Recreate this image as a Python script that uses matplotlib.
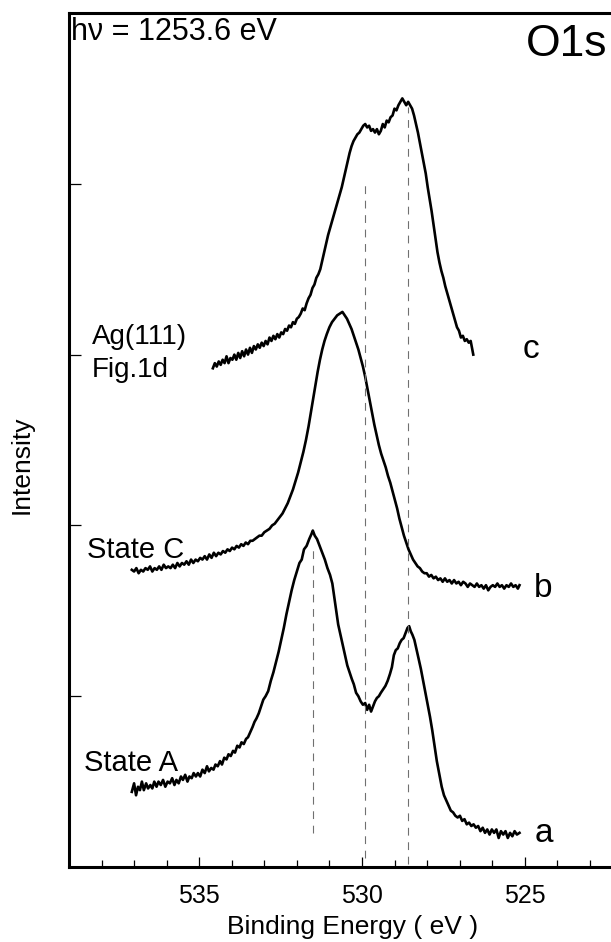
"""O1s XPS spectra (states A, C and Ag(111) Fig.1d)"""
import matplotlib
matplotlib.use("Agg")
import matplotlib.pyplot as plt
from matplotlib.ticker import MultipleLocator, NullFormatter

plt.rcParams["font.family"] = ["Liberation Sans", "DejaVu Sans"]

# --- spectra: binding energy (eV) / intensity (arb.) ---
energy_a = [537.07, 537.00, 536.94, 536.88, 536.82, 536.76, 536.70, 536.63, 536.57, 536.50,
            536.44, 536.38, 536.31, 536.25, 536.18, 536.11, 536.04, 535.97, 535.90, 535.83,
            535.76, 535.70, 535.63, 535.56, 535.50, 535.43, 535.36, 535.30, 535.23, 535.17,
            535.10, 535.04, 534.97, 534.90, 534.83, 534.76, 534.70, 534.63, 534.56, 534.50,
            534.43, 534.36, 534.30, 534.23, 534.16, 534.10, 534.03, 533.96, 533.90, 533.83,
            533.76, 533.70, 533.63, 533.56, 533.50, 533.43, 533.36, 533.30, 533.24, 533.17,
            533.10, 533.03, 532.96, 532.88, 532.80, 532.72, 532.64, 532.56, 532.48, 532.40,
            532.32, 532.24, 532.16, 532.08, 532.00, 531.92, 531.85, 531.78, 531.70, 531.62,
            531.55, 531.51, 531.45, 531.38, 531.30, 531.22, 531.14, 531.06, 530.98, 530.91,
            530.85, 530.79, 530.73, 530.66, 530.59, 530.52, 530.45, 530.38, 530.31, 530.25,
            530.18, 530.11, 530.04, 529.97, 529.90, 529.84, 529.78, 529.72, 529.66, 529.60,
            529.54, 529.48, 529.42, 529.35, 529.28, 529.21, 529.14, 529.08, 529.02, 528.96,
            528.90, 528.84, 528.78, 528.72, 528.66, 528.60, 528.55, 528.50, 528.45, 528.39,
            528.33, 528.26, 528.19, 528.12, 528.05, 527.98, 527.91, 527.84, 527.77, 527.70,
            527.62, 527.55, 527.48, 527.41, 527.34, 527.27, 527.20, 527.13, 527.06, 526.99,
            526.92, 526.85, 526.78, 526.71, 526.64, 526.57, 526.50, 526.43, 526.36, 526.29,
            526.22, 526.15, 526.08, 526.01, 525.94, 525.87, 525.80, 525.73, 525.66, 525.59,
            525.52, 525.45, 525.38, 525.31, 525.24, 525.16]
counts_a = [0.44, 0.49, 0.42, 0.47, 0.45, 0.50, 0.45, 0.49, 0.46, 0.48,
            0.46, 0.50, 0.47, 0.50, 0.48, 0.51, 0.47, 0.50, 0.49, 0.52,
            0.48, 0.51, 0.49, 0.53, 0.51, 0.54, 0.50, 0.53, 0.52, 0.55,
            0.53, 0.55, 0.53, 0.57, 0.55, 0.59, 0.56, 0.58, 0.57, 0.60,
            0.59, 0.62, 0.60, 0.64, 0.63, 0.66, 0.65, 0.68, 0.67, 0.71,
            0.70, 0.73, 0.72, 0.75, 0.76, 0.79, 0.82, 0.85, 0.87, 0.90,
            0.94, 0.98, 1.00, 1.03, 1.09, 1.14, 1.20, 1.26, 1.33, 1.40,
            1.48, 1.55, 1.62, 1.68, 1.73, 1.78, 1.80, 1.86, 1.88, 1.92,
            1.95, 1.97, 1.94, 1.92, 1.88, 1.84, 1.80, 1.75, 1.71, 1.66,
            1.58, 1.50, 1.42, 1.36, 1.30, 1.24, 1.18, 1.14, 1.10, 1.07,
            1.02, 1.00, 0.97, 0.95, 0.96, 0.92, 0.95, 0.91, 0.94, 0.97,
            0.99, 1.00, 1.02, 1.04, 1.06, 1.09, 1.13, 1.17, 1.24, 1.27,
            1.28, 1.31, 1.33, 1.34, 1.37, 1.40, 1.41, 1.38, 1.36, 1.33,
            1.28, 1.22, 1.16, 1.09, 1.02, 0.95, 0.88, 0.80, 0.71, 0.62,
            0.54, 0.47, 0.42, 0.39, 0.36, 0.33, 0.32, 0.30, 0.29, 0.30,
            0.27, 0.28, 0.25, 0.26, 0.24, 0.25, 0.23, 0.24, 0.21, 0.23,
            0.20, 0.22, 0.19, 0.22, 0.20, 0.22, 0.17, 0.21, 0.19, 0.21,
            0.17, 0.20, 0.18, 0.21, 0.19, 0.20]

energy_b = [537.07, 537.00, 536.93, 536.86, 536.79, 536.72, 536.65, 536.58, 536.51, 536.44,
            536.37, 536.30, 536.23, 536.16, 536.09, 536.02, 535.95, 535.88, 535.81, 535.74,
            535.67, 535.60, 535.53, 535.46, 535.39, 535.32, 535.25, 535.18, 535.11, 535.04,
            534.97, 534.90, 534.83, 534.76, 534.69, 534.62, 534.55, 534.48, 534.41, 534.34,
            534.27, 534.20, 534.13, 534.06, 533.99, 533.92, 533.85, 533.78, 533.71, 533.64,
            533.57, 533.50, 533.43, 533.36, 533.29, 533.22, 533.15, 533.08, 533.00, 532.92,
            532.84, 532.76, 532.68, 532.60, 532.52, 532.44, 532.36, 532.28, 532.20, 532.12,
            532.04, 531.96, 531.88, 531.80, 531.72, 531.64, 531.57, 531.50, 531.43, 531.36,
            531.29, 531.22, 531.15, 531.08, 531.00, 530.92, 530.84, 530.76, 530.68, 530.60,
            530.53, 530.46, 530.39, 530.32, 530.25, 530.18, 530.11, 530.04, 529.97, 529.90,
            529.83, 529.76, 529.69, 529.62, 529.55, 529.48, 529.41, 529.34, 529.27, 529.20,
            529.13, 529.06, 528.99, 528.92, 528.85, 528.78, 528.71, 528.64, 528.57, 528.50,
            528.43, 528.36, 528.29, 528.22, 528.15, 528.08, 528.01, 527.94, 527.87, 527.80,
            527.73, 527.66, 527.59, 527.52, 527.45, 527.38, 527.31, 527.24, 527.17, 527.10,
            527.03, 526.96, 526.89, 526.82, 526.75, 526.68, 526.61, 526.54, 526.47, 526.40,
            526.33, 526.26, 526.19, 526.12, 526.05, 525.98, 525.91, 525.84, 525.77, 525.70,
            525.63, 525.56, 525.49, 525.42, 525.35, 525.28, 525.21, 525.16]
counts_b = [1.74, 1.73, 1.75, 1.72, 1.74, 1.73, 1.75, 1.74, 1.76, 1.73,
            1.75, 1.74, 1.76, 1.74, 1.77, 1.75, 1.76, 1.75, 1.77, 1.75,
            1.78, 1.76, 1.78, 1.77, 1.79, 1.77, 1.80, 1.78, 1.80, 1.79,
            1.81, 1.80, 1.82, 1.80, 1.83, 1.81, 1.84, 1.82, 1.84, 1.83,
            1.85, 1.84, 1.86, 1.85, 1.87, 1.86, 1.88, 1.87, 1.89, 1.88,
            1.90, 1.89, 1.91, 1.91, 1.92, 1.93, 1.94, 1.94, 1.96, 1.97,
            1.98, 2.00, 2.01, 2.03, 2.05, 2.07, 2.10, 2.13, 2.17, 2.21,
            2.26, 2.31, 2.37, 2.43, 2.50, 2.58, 2.66, 2.74, 2.82, 2.90,
            2.97, 3.03, 3.08, 3.12, 3.16, 3.19, 3.21, 3.23, 3.24, 3.25,
            3.23, 3.21, 3.18, 3.15, 3.11, 3.07, 3.03, 2.98, 2.93, 2.87,
            2.80, 2.73, 2.66, 2.59, 2.53, 2.47, 2.42, 2.38, 2.34, 2.29,
            2.25, 2.20, 2.15, 2.10, 2.04, 1.99, 1.94, 1.90, 1.86, 1.83,
            1.80, 1.78, 1.76, 1.75, 1.73, 1.72, 1.72, 1.70, 1.71, 1.69,
            1.70, 1.68, 1.69, 1.67, 1.69, 1.67, 1.68, 1.66, 1.68, 1.66,
            1.67, 1.65, 1.67, 1.66, 1.64, 1.66, 1.65, 1.64, 1.66, 1.64,
            1.65, 1.63, 1.65, 1.62, 1.64, 1.65, 1.64, 1.66, 1.64, 1.65,
            1.63, 1.65, 1.64, 1.66, 1.64, 1.65, 1.63, 1.65]

energy_c = [534.58, 534.52, 534.46, 534.40, 534.34, 534.28, 534.22, 534.16, 534.10, 534.04,
            533.98, 533.92, 533.86, 533.80, 533.74, 533.68, 533.62, 533.56, 533.50, 533.44,
            533.38, 533.32, 533.26, 533.20, 533.14, 533.08, 533.02, 532.96, 532.90, 532.84,
            532.78, 532.72, 532.66, 532.60, 532.54, 532.48, 532.42, 532.36, 532.30, 532.24,
            532.18, 532.12, 532.06, 532.00, 531.94, 531.88, 531.82, 531.76, 531.70, 531.64,
            531.58, 531.52, 531.46, 531.40, 531.34, 531.28, 531.22, 531.16, 531.10, 531.04,
            530.98, 530.92, 530.86, 530.80, 530.74, 530.68, 530.62, 530.56, 530.50, 530.44,
            530.38, 530.32, 530.26, 530.20, 530.14, 530.08, 530.02, 529.96, 529.90, 529.84,
            529.78, 529.72, 529.66, 529.60, 529.54, 529.48, 529.42, 529.36, 529.30, 529.24,
            529.18, 529.12, 529.06, 529.00, 528.94, 528.88, 528.82, 528.76, 528.70, 528.64,
            528.58, 528.52, 528.46, 528.40, 528.34, 528.28, 528.22, 528.16, 528.10, 528.04,
            527.98, 527.92, 527.86, 527.80, 527.74, 527.68, 527.62, 527.56, 527.50, 527.44,
            527.38, 527.32, 527.26, 527.20, 527.14, 527.08, 527.02, 526.96, 526.90, 526.84,
            526.78, 526.72, 526.66, 526.62, 526.58]
counts_c = [2.92, 2.95, 2.93, 2.96, 2.94, 2.97, 2.95, 2.99, 2.95, 2.98,
            2.97, 3.00, 2.97, 3.01, 2.98, 3.02, 2.99, 3.03, 3.00, 3.04,
            3.01, 3.05, 3.03, 3.06, 3.04, 3.07, 3.05, 3.08, 3.06, 3.10,
            3.08, 3.11, 3.09, 3.12, 3.10, 3.13, 3.12, 3.15, 3.14, 3.17,
            3.16, 3.19, 3.18, 3.21, 3.22, 3.24, 3.27, 3.26, 3.30, 3.33,
            3.35, 3.39, 3.41, 3.45, 3.47, 3.50, 3.55, 3.60, 3.65, 3.70,
            3.74, 3.78, 3.82, 3.86, 3.90, 3.94, 3.98, 4.03, 4.08, 4.13,
            4.18, 4.22, 4.25, 4.27, 4.29, 4.30, 4.32, 4.34, 4.35, 4.33,
            4.34, 4.31, 4.32, 4.30, 4.32, 4.29, 4.31, 4.35, 4.33, 4.37,
            4.36, 4.39, 4.40, 4.44, 4.43, 4.46, 4.48, 4.50, 4.48, 4.46,
            4.48, 4.46, 4.44, 4.40, 4.35, 4.30, 4.24, 4.18, 4.12, 4.06,
            3.98, 3.91, 3.84, 3.76, 3.68, 3.60, 3.54, 3.49, 3.45, 3.40,
            3.36, 3.32, 3.28, 3.24, 3.20, 3.16, 3.14, 3.10, 3.11, 3.08,
            3.09, 3.07, 3.08, 3.04, 3.00]

# peak markers: position and vertical extent
peak_pos = [531.5, 529.9, 528.6]
peak_top = [1.87, 4.02, 4.45]
peak_bottom = [0.20, 0.05, 0.02]

curve_tags = ["a", "b", "c"]

fig = plt.figure(figsize=(6.11, 9.42), dpi=100)
ax = fig.add_axes([0.1129, 0.0796, 0.9057, 0.9066])

for e, c in [(energy_a, counts_a), (energy_b, counts_b), (energy_c, counts_c)]:
    ax.plot(e, c, color="black", lw=1.9, solid_joinstyle="round")

for p, t, b in zip(peak_pos, peak_top, peak_bottom):
    ax.vlines(p, b, t, colors="#707070", lw=0.8, linestyles=(0, (7, 6)))

ax.set_xlim(539, 522)
ax.set_ylim(0, 5)
ax.xaxis.set_major_locator(MultipleLocator(5))
ax.xaxis.set_minor_locator(MultipleLocator(1))
ax.yaxis.set_major_locator(MultipleLocator(1))
ax.yaxis.set_major_formatter(NullFormatter())
ax.tick_params(axis="x", which="major", direction="in", length=7, width=0.9,
               labelsize=18, pad=12, top=False)
ax.tick_params(axis="x", which="minor", direction="in", length=5, width=0.9, top=False)
ax.tick_params(axis="y", direction="in", length=8.5, width=0.9, right=False)
for s in ax.spines.values():
    s.set_linewidth(2.2)

ax.set_xlabel("Binding Energy ( eV )", fontsize=19, labelpad=5, x=0.513)
fig.text(22 / 611, 1 - 465 / 942, "Intensity", rotation=90, fontsize=19,
         ha="center", va="center")

# annotations
ax.text(538.95, 4.84, "hν = 1253.6 eV", fontsize=22, ha="left", va="baseline")
ax.text(522.45, 4.75, "O1s", fontsize=32, ha="right", va="baseline")
ax.text(538.3, 3.06, "Ag(111)", fontsize=20, ha="left", va="baseline")
ax.text(538.3, 2.87, "Fig.1d", fontsize=20, ha="left", va="baseline")
ax.text(538.44, 1.81, "State C", fontsize=21, ha="left", va="baseline")
ax.text(538.53, 0.56, "State A", fontsize=21, ha="left", va="baseline")
for tag, (x, y) in zip(curve_tags, [(524.71, 0.146), (524.71, 1.58), (525.05, 2.98)]):
    ax.text(x, y, tag, fontsize=24, ha="left", va="baseline")

fig.savefig("out.png", dpi=100)
